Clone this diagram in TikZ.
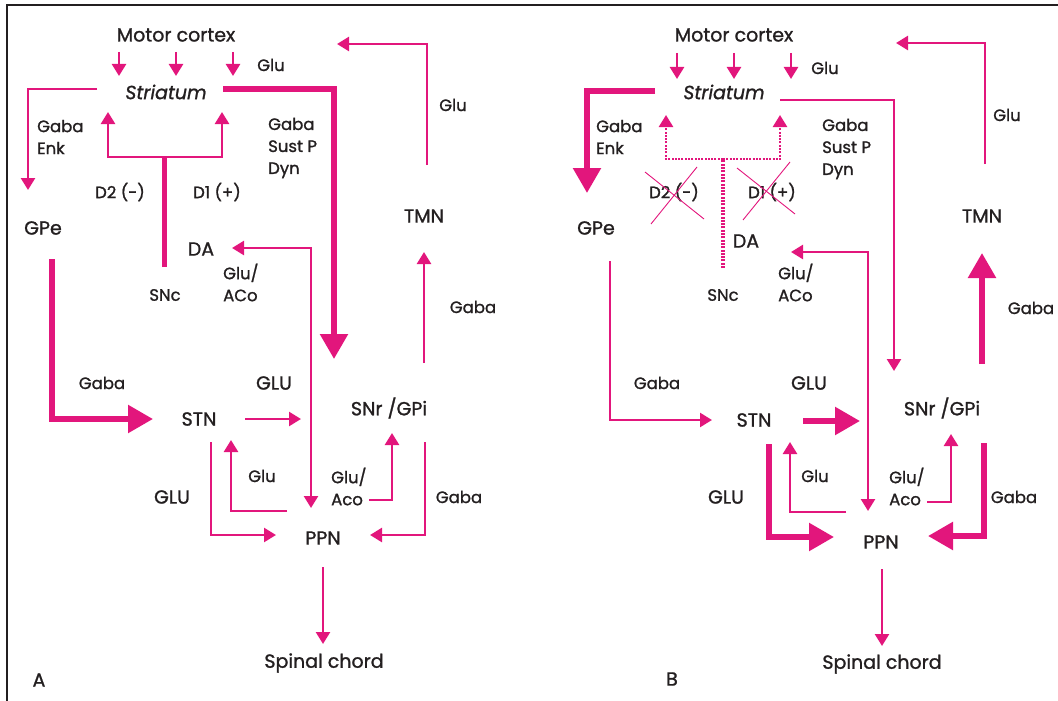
\documentclass[tikz,border=0pt]{standalone}
\usepackage{fontspec}
\setmainfont{Poppins}[FakeBold=1.2]
\usetikzlibrary{arrows.meta}
\definecolor{mag}{RGB}{226,22,124}
\definecolor{ink}{RGB}{35,31,32}
\newcommand{\bigf}{\fontsize{19}{22}\selectfont}
\newcommand{\labf}{\fontsize{16.5}{22}\selectfont}
\begin{document}
\begin{tikzpicture}[x=1pt,y=-1pt,
  big/.style={font=\bigf,text=ink,inner sep=0pt},
  lab/.style={font=\labf,text=ink,inner sep=0pt},
  mlab/.style={font=\labf,text=ink,inner sep=0pt,anchor=west,align=left},
  thin/.style={draw=mag,line width=2.5pt,-{Triangle[width=14pt,length=12pt]}},
  thick/.style={draw=mag,line width=5.5pt,-{Triangle[width=27pt,length=25pt]}},
  plain/.style={draw=mag,line width=2.5pt},
  dotl/.style={draw=mag,line width=2.5pt,dash pattern=on 2pt off 1.3pt},
  cross/.style={draw=mag,line width=0.9pt}]
\useasboundingbox (0,0) rectangle (1058,701);
\draw[ink,line width=2.2pt] (7,701) -- (7,5) -- (1058,5);

% ---------------- Panel A ----------------
\node[big] (mcA) at (176,35) {Motor cortex};
\node[lab] (gluA1) at (271,65) {Glu};
\node[big,font=\bigf\itshape] (strA) at (166,92) {Striatum};
\node[mlab] (geA) at (37,137) {Gaba\\Enk};
\node[lab] (d2A) at (120,192) {D2 (-)};
\node[lab] (d1A) at (217,192) {D1 (+)};
\node[mlab] (gsdA) at (268,148) {Gaba\\Sust P\\Dyn};
\node[lab] (gluA2) at (453,105) {Glu};
\node[big] (gpeA) at (43,228) {GPe};
\node[big] (daA) at (201,249) {DA};
\node[lab] (sncA) at (165,295) {SNc};
\node[mlab] (gaA) at (223,282.5) {Glu/\\ACo};
\node[big] (tmnA) at (424,216) {TMN};
\node[lab] (gabA3) at (473,307) {Gaba};
\node[lab] (gabA4) at (102,383) {Gaba};
\node[big] (GLUA1) at (274,383) {GLU};
\node[big] (stnA) at (199,419) {STN};
\node[big] (snrA) at (389,408) {SNr /GPi};
\node[lab] (gluA3) at (262,476) {Glu};
\node[big] (GLUA2) at (172,497) {GLU};
\node[mlab] (gaA2) at (331,486.5) {Glu/\\Aco};
\node[lab] (gabA5) at (459,497) {Gaba};
\node[big] (ppnA) at (323,538) {PPN};
\node[big] (spA) at (324,663) {Spinal chord};
\node[big] (labA) at (39,680) {A};

% cortex -> striatum
\foreach \x/\n in {119/1,176/2,233/3}{
  \coordinate (cA\n s) at (\x,52); \coordinate (cA\n e) at (\x,76);
  \draw[thin] (cA\n s) -- (cA\n e);}
% striatum -> GPe
\coordinate (sgA1) at (97,89); \coordinate (sgA2) at (28,190);
\draw[thin] (sgA1) -| (sgA2);
% SNc fork
\coordinate (snA0) at (164,267); \coordinate (snA1) at (164,157);
\coordinate (snA2) at (108,112); \coordinate (snA3) at (222,112);
\draw[draw=mag,line width=5pt] (snA0) -- (snA1);
\draw[thin] (snA1) -| (snA2);
\draw[thin] (snA1) -| (snA3);
% striatum -> SNr
\coordinate (ssA1) at (223,89); \coordinate (ssA2) at (334,359);
\draw[thick] (ssA1) -| (ssA2);
% TMN -> cortex
\coordinate (tcA1) at (427,165); \coordinate (tcA2) at (337,44);
\draw[thin] (tcA1) |- (tcA2);
% SNr -> TMN
\coordinate (stA1) at (424,363); \coordinate (stA2) at (424,252);
\draw[thin] (stA1) -- (stA2);
% DA <-> PPN
\coordinate (dpA1) at (232,248); \coordinate (dpA2) at (311,508);
\draw[thin,{Triangle[width=14pt,length=12pt]}-{Triangle[width=14pt,length=12pt]}] (dpA1) -| (dpA2);
% GPe -> STN
\coordinate (gsA1) at (52,259); \coordinate (gsA2) at (153,419);
\draw[thick] (gsA1) |- (gsA2);
% STN -> SNr
\coordinate (snrA1) at (245,419); \coordinate (snrA2) at (301,419);
\draw[thin] (snrA1) -- (snrA2);
% STN -> PPN
\coordinate (spA1) at (211,442); \coordinate (spA2) at (276,535);
\draw[thin] (spA1) |- (spA2);
% PPN -> STN
\coordinate (psA1) at (287,511); \coordinate (psA2) at (231,440);
\draw[thin] (psA1) -| (psA2);
% PPN -> SNr
\coordinate (prA1) at (369,500); \coordinate (prA2) at (392,433);
\draw[thin] (prA1) -| (prA2);
% SNr -> PPN
\coordinate (rpA1) at (425,442); \coordinate (rpA2) at (370,535);
\draw[thin] (rpA1) |- (rpA2);
% PPN -> spinal chord
\coordinate (pcA1) at (323,567); \coordinate (pcA2) at (323,644);
\draw[thin] (pcA1) -- (pcA2);

% ---------------- Panel B ----------------
\node[big] (mcB) at (734,35) {Motor cortex};
\node[lab] (gluB1) at (825,68) {Glu};
\node[big,font=\bigf\itshape] (strB) at (724,92) {Striatum};
\node[mlab] (geB) at (596,137) {Gaba\\Enk};
\node[lab] (d2B) at (674,192) {D2 (-)};
\node[lab] (d1B) at (772,192) {D1 (+)};
\node[mlab] (gsdB) at (822,149) {Gaba\\Sust P\\Dyn};
\node[lab] (gluB2) at (1007,115) {Glu};
\node[big] (gpeB) at (596,228) {GPe};
\node[big] (daB) at (746,241) {DA};
\node[lab] (sncB) at (723,295) {SNc};
\node[mlab] (gaB) at (778,282.5) {Glu/\\ACo};
\node[big] (tmnB) at (982,216) {TMN};
\node[lab] (gabB3) at (1031,308) {Gaba};
\node[lab] (gabB4) at (657,383) {Gaba};
\node[big] (GLUB1) at (809,383) {GLU};
\node[big] (stnB) at (754,420) {STN};
\node[big] (snrB) at (942,408) {SNr /GPi};
\node[lab] (gluB3) at (815,476) {Glu};
\node[big] (GLUB2) at (726,497) {GLU};
\node[mlab] (gaB2) at (889,486.5) {Glu/\\Aco};
\node[lab] (gabB5) at (1014,497) {Gaba};
\node[big] (ppnB) at (881,542) {PPN};
\node[big] (spB) at (882,664) {Spinal chord};
\node[big] (labB) at (672,679) {B};

% cortex -> striatum
\foreach \x/\n in {677/1,734/2,791/3}{
  \coordinate (cB\n s) at (\x,53); \coordinate (cB\n e) at (\x,79);
  \draw[thin] (cB\n s) -- (cB\n e);}
% striatum -> GPe (thick)
\coordinate (sgB1) at (655,91); \coordinate (sgB2) at (587,193);
\draw[thick] (sgB1) -| (sgB2);
% SNc dotted fork
\coordinate (snB0) at (723,268); \coordinate (snB1) at (723,159);
\coordinate (snB2) at (666,115); \coordinate (snB3) at (780,115);
\draw[dotl,line width=3.5pt] (snB0) -- (snB1);
\draw[dotl,-{Triangle[width=14pt,length=12pt]}] (snB1) -| (snB2);
\draw[dotl,-{Triangle[width=14pt,length=12pt]}] (snB1) -| (snB3);
% crosses
\coordinate (x1a) at (645,172); \coordinate (x1b) at (704,219);
\coordinate (x2a) at (697,167); \coordinate (x2b) at (651,224);
\coordinate (x3a) at (737,168); \coordinate (x3b) at (795,214);
\coordinate (x4a) at (790,162); \coordinate (x4b) at (743,220);
\draw[cross] (x1a) -- (x1b); \draw[cross] (x2a) -- (x2b);
\draw[cross] (x3a) -- (x3b); \draw[cross] (x4a) -- (x4b);
% striatum -> SNr (thin)
\coordinate (ssB1) at (780,100); \coordinate (ssB2) at (894,371);
\draw[thin] (ssB1) -| (ssB2);
% TMN -> cortex
\coordinate (tcB1) at (985,164); \coordinate (tcB2) at (896,43);
\draw[thin] (tcB1) |- (tcB2);
% SNr -> TMN (thick)
\coordinate (stB1) at (982,364); \coordinate (stB2) at (982,253);
\draw[thick] (stB1) -- (stB2);
% DA <-> PPN
\coordinate (dpB1) at (791,252); \coordinate (dpB2) at (868,511);
\draw[thin,{Triangle[width=14pt,length=12pt]}-{Triangle[width=14pt,length=12pt]}] (dpB1) -| (dpB2);
% GPe -> STN (thin)
\coordinate (gsB1) at (610,261); \coordinate (gsB2) at (712,420);
\draw[thin] (gsB1) |- (gsB2);
% STN -> SNr (thick)
\coordinate (snrB1) at (803,421); \coordinate (snrB2) at (860,421);
\draw[thick] (snrB1) -- (snrB2);
% STN -> PPN (thick)
\coordinate (spB1) at (769,444); \coordinate (spB2) at (834,537);
\draw[thick] (spB1) |- (spB2);
% PPN -> STN
\coordinate (psB1) at (846,512); \coordinate (psB2) at (790,442);
\draw[thin] (psB1) -| (psB2);
% PPN -> SNr
\coordinate (prB1) at (927,502); \coordinate (prB2) at (951,434);
\draw[thin] (prB1) -| (prB2);
% SNr -> PPN (thick)
\coordinate (rpB1) at (984,443); \coordinate (rpB2) at (928,536);
\draw[thick] (rpB1) |- (rpB2);
% PPN -> spinal chord
\coordinate (pcB1) at (882,569); \coordinate (pcB2) at (882,646);
\draw[thin] (pcB1) -- (pcB2);
\end{tikzpicture}
\end{document}
